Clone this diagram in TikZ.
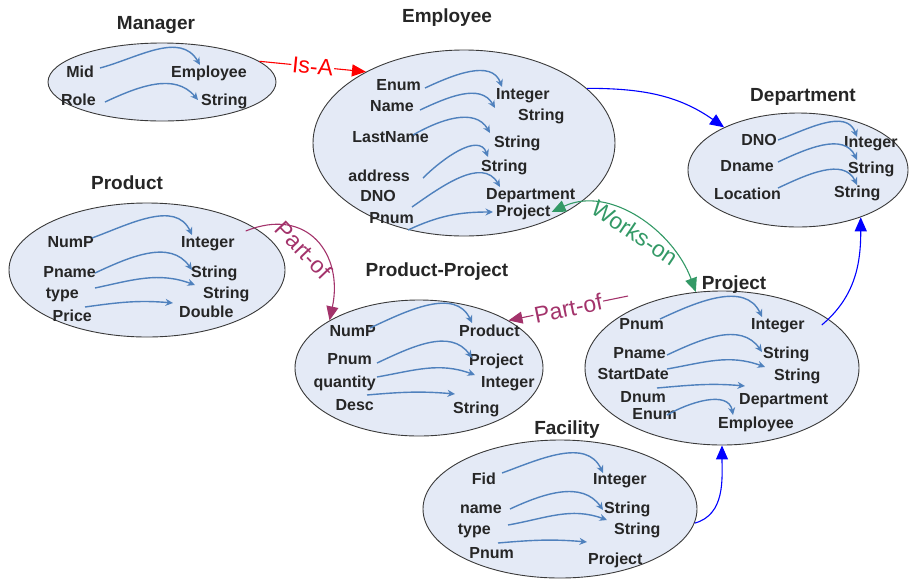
\documentclass[tikz,border=0pt]{standalone}
\usepackage{fontspec}
\setmainfont{Liberation Sans}
\usepackage{tikz}
\usetikzlibrary{shapes.geometric,arrows.meta}
\definecolor{entFill}{HTML}{E4EAF6}
\definecolor{entLine}{HTML}{3A3A3A}
\definecolor{fldBlue}{HTML}{4F81BD}
\definecolor{isaRed}{HTML}{FF0000}
\definecolor{refBlue}{HTML}{0000FF}
\definecolor{workGreen}{HTML}{339966}
\definecolor{partPurple}{HTML}{A3336B}
\definecolor{txtDark}{HTML}{262626}
\tikzset{
  entity/.style={ellipse, draw=entLine, line width=0.9pt, fill=entFill, inner sep=0pt},
  title/.style={font=\fontsize{19}{21}\selectfont\bfseries, text=txtDark},
  fieldName/.style={anchor=east, inner sep=1pt, text height=11.5pt, text depth=3.5pt, font=\fontsize{16}{18}\selectfont\bfseries, text=txtDark},
  fieldType/.style={fieldName, anchor=west},
  fieldArrow/.style={draw=fldBlue, line width=1.4pt, -{Stealth[length=7.5pt,width=7pt]}},
  relLine/.style={line width=1.1pt, -{Triangle[length=14pt,width=12pt]}},
  relBoth/.style={line width=1.1pt, {Triangle[length=14pt,width=12pt]}-{Triangle[length=14pt,width=12pt]}},
  relLabel/.style={font=\fontsize{23}{25}\selectfont, inner sep=1pt}
}
\newcommand{\fieldLink}[6]{\draw[fieldArrow] ([shift={(#3)}]#1.east) to[out=#5,in=#6] ([shift={(#4)}]#2.west);}

\begin{document}
\begin{tikzpicture}[x=1pt,y=-1pt]
\useasboundingbox (0,0) rectangle (909,579);
% entities
\node[entity, minimum width=228pt, minimum height=78pt] (mgr) at (162,82) {};
\node[entity, minimum width=302pt, minimum height=186pt] (emp) at (464,143) {};
\node[entity, minimum width=220pt, minimum height=114pt] (dpt) at (798,170) {};
\node[entity, minimum width=276pt, minimum height=134pt] (prd) at (147,270) {};
\node[entity, minimum width=248pt, minimum height=136pt] (pp) at (419,368) {};
\node[entity, minimum width=274pt, minimum height=154pt] (prj) at (722,368) {};
\node[entity, minimum width=274pt, minimum height=138pt] (fac) at (560,509) {};
% manager
\node[title] (mgrT) at (156,25) {Manager};
\node[fieldName] (m1) at (95,73) {Mid};
\node[fieldName] (m2) at (97,101) {Role};
\node[fieldType] (mt1) at (170,73) {Employee};
\node[fieldType] (mt2) at (200,101) {String};
\fieldLink{m1}{mt1}{5,-5}{30,-8}{15}{120}
\fieldLink{m2}{mt2}{8,1}{-2,-1}{25}{130}
% employee
\node[title] (empT) at (447,18) {Employee};
\node[fieldName] (e1) at (422,86) {Enum};
\node[fieldName] (e2) at (415,107) {Name};
\node[fieldName] (e3) at (430,138) {LastName};
\node[fieldName] (e4) at (411,177) {address};
\node[fieldName] (e5) at (397,197) {DNO};
\node[fieldName] (e6) at (415,219) {Pnum};
\node[fieldType] (et1) at (495,95) {Integer};
\node[fieldType] (et2) at (517,116) {String};
\node[fieldType] (et3) at (493,143) {String};
\node[fieldType] (et4) at (480,167) {String};
\node[fieldType] (et5) at (485,195) {Department};
\node[fieldType] (et6) at (495,212) {Project};
\fieldLink{e1}{et1}{3,2}{7,-8}{25}{110}
\fieldLink{e2}{et2}{5,3}{-22,-8}{25}{120}
\fieldLink{e3}{et3}{-17,-3}{-3,-10}{30}{120}
\fieldLink{e4}{et4}{12,1}{8,-10}{45}{110}
\fieldLink{e5}{et5}{15,10}{15,-8}{35}{120}
\fieldLink{e6}{et6}{-7,11}{-2,0}{25}{180}
% department
\node[title] (dptT) at (803,97) {Department};
\node[fieldName] (d1) at (778,141) {DNO};
\node[fieldName] (d2) at (775,167) {Dname};
\node[fieldName] (d3) at (782,195) {Location};
\node[fieldType] (dt1) at (843,143) {Integer};
\node[fieldType] (dt2) at (847,169) {String};
\node[fieldType] (dt3) at (833,193) {String};
\fieldLink{d1}{dt1}{0,-1}{14,-6}{20}{110}
\fieldLink{d2}{dt2}{3,-5}{10,-9}{25}{115}
\fieldLink{d3}{dt3}{-4,-7}{24,-8}{25}{115}
% product
\node[title] (prdT) at (127,183) {Product};
\node[fieldName] (p1) at (95,243) {NumP};
\node[fieldName] (p2) at (97,273) {Pname};
\node[fieldName] (p3) at (80,294) {type};
\node[fieldName] (p4) at (93,317) {Price};
\node[fieldType] (pt1) at (180,243) {Integer};
\node[fieldType] (pt2) at (190,273) {String};
\node[fieldType] (pt3) at (202,294) {String};
\node[fieldType] (pt4) at (178,313) {Double};
\fieldLink{p1}{pt1}{-3,-5}{12,-8}{20}{115}
\fieldLink{p2}{pt2}{-2,0}{2,-3}{25}{125}
\fieldLink{p3}{pt3}{15,-6}{-7,-9}{12}{160}
\fieldLink{p4}{pt4}{-8,-10}{-5,-10}{8}{175}
% product-project
\node[title] (ppT) at (437,272) {Product-Project};
\node[fieldName] (q1) at (377,332) {NumP};
\node[fieldName] (q2) at (373,360) {Pnum};
\node[fieldName] (q3) at (377,383) {quantity};
\node[fieldName] (q4) at (375,406) {Desc};
\node[fieldType] (qt1) at (458,332) {Product};
\node[fieldType] (qt2) at (468,361) {Project};
\node[fieldType] (qt3) at (480,383) {Integer};
\node[fieldType] (qt4) at (452,409) {String};
\fieldLink{q1}{qt1}{-7,-4}{14,-9}{25}{115}
\fieldLink{q2}{qt2}{4,3}{4,-3}{25}{125}
\fieldLink{q3}{qt3}{0,-6}{-5,-8}{10}{160}
\fieldLink{q4}{qt4}{-8,-11}{3,-15}{5}{175}
% project
\node[title] (prjT) at (734,285) {Project};
\node[fieldName] (j1) at (665,325) {Pnum};
\node[fieldName] (j2) at (667,354) {Pname};
\node[fieldName] (j3) at (670,375) {StartDate};
\node[fieldName] (j4) at (667,398) {Dnum};
\node[fieldName] (j5) at (678,415) {Enum};
\node[fieldType] (jt1) at (750,325) {Integer};
\node[fieldType] (jt2) at (762,354) {String};
\node[fieldType] (jt3) at (773,376) {String};
\node[fieldType] (jt4) at (738,400) {Department};
\node[fieldType] (jt5) at (717,424) {Employee};
\fieldLink{j1}{jt1}{-5,-6}{12,-8}{25}{115}
\fieldLink{j2}{jt2}{0,1}{0,-2}{25}{125}
\fieldLink{j3}{jt3}{-3,-6}{-8,-9}{10}{160}
\fieldLink{j4}{jt4}{-10,-10}{7,-14}{5}{175}
\fieldLink{j5}{jt5}{-11,0}{16,-9}{30}{100}
% facility
\node[title] (facT) at (567,430) {Facility};
\node[fieldName] (f1) at (497,480) {Fid};
\node[fieldName] (f2) at (503,509) {name};
\node[fieldName] (f3) at (492,530) {type};
\node[fieldName] (f4) at (515,554) {Pnum};
\node[fieldType] (ft1) at (592,480) {Integer};
\node[fieldType] (ft2) at (603,509) {String};
\node[fieldType] (ft3) at (613,530) {String};
\node[fieldType] (ft4) at (587,560) {Project};
\fieldLink{f1}{ft1}{5,-7}{11,-7}{20}{115}
\fieldLink{f2}{ft2}{7,0}{0,1}{25}{125}
\fieldLink{f3}{ft3}{16,-5}{-6,-10}{10}{160}
\fieldLink{f4}{ft4}{-17,-11}{0,-18}{5}{175}
% relationships
\draw[relLine, isaRed] (mgr.12) -- node[relLabel, fill=white, sloped] {Is-A} (emp.144);
\draw[relLine, refBlue] (emp.24) to[out=0,in=145] (dpt.150);
\draw[relBoth, workGreen] (et6.east) to[out=25,in=110] node[relLabel, sloped, below=3pt, pos=0.53] {Works-on} (prj.109);
\draw[relLine, partPurple] ([shift={(10,-12)}]pt1.east) to[out=22,in=78,looseness=1.4] node[relLabel, sloped, below=5pt, pos=0.48] {Part-of} (pp.152);
\coordinate (pofs) at (628,296);
\draw[relLine, partPurple] (pofs) -- node[relLabel, fill=white, sloped] {Part-of} (pp.28);
\draw[relLine, refBlue] (fac.-6) to[out=15,in=-90] (prj.south);
\draw[relLine, refBlue] ([xshift=16pt]jt1.east) to[out=40,in=-90] (dpt.-37);
\end{tikzpicture}
\end{document}
